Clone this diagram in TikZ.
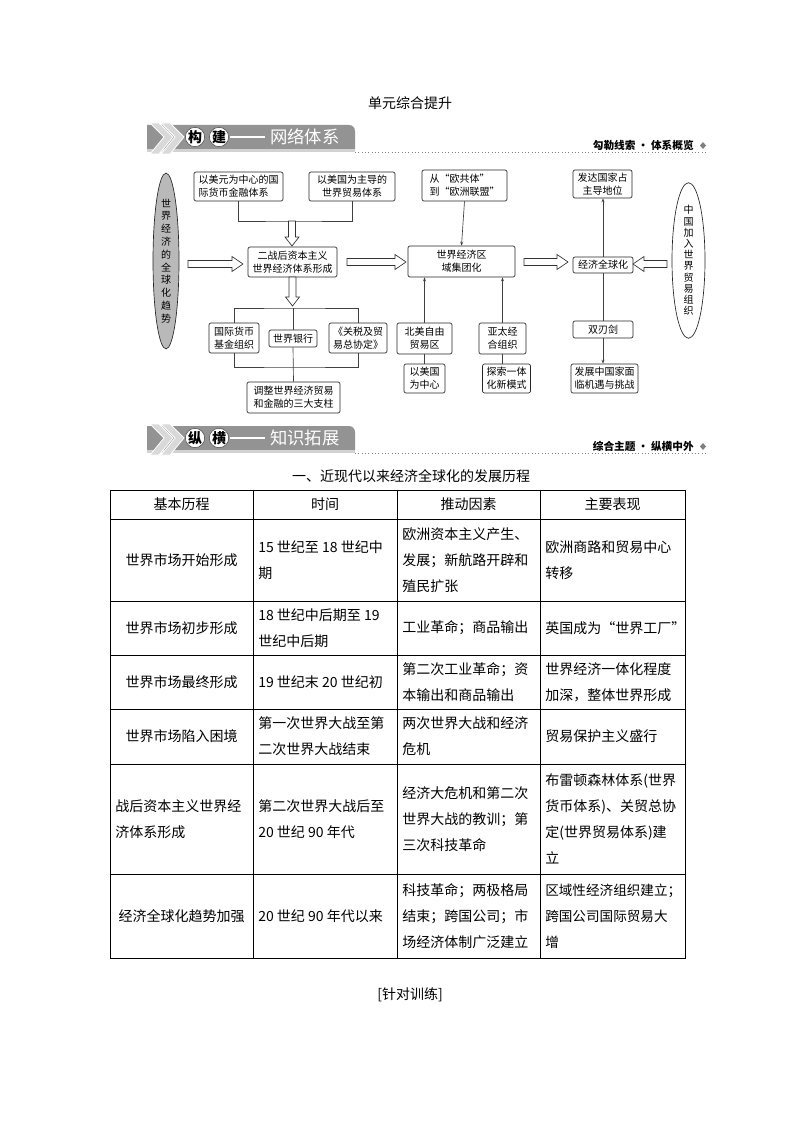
\documentclass[tikz,border=0pt]{standalone}
\usepackage{fontspec}
\setmainfont{Noto Sans CJK SC}
\usetikzlibrary{shapes.geometric,arrows.meta,calc}

\newcommand\harR[3]{\draw[harrow] (#1,#3-3.5) -- (#2-11,#3-3.5) -- (#2-11,#3-7.5) -- (#2,#3) -- (#2-11,#3+7.5) -- (#2-11,#3+3.5) -- (#1,#3+3.5) -- cycle;}
\newcommand\harL[3]{\draw[harrow] (#1,#3-3.5) -- (#2+11,#3-3.5) -- (#2+11,#3-7.5) -- (#2,#3) -- (#2+11,#3+7.5) -- (#2+11,#3+3.5) -- (#1,#3+3.5) -- cycle;}
\newcommand\harD[3]{\draw[harrow] (#1-3.5,#2) -- (#1-3.5,#3-9) -- (#1-7,#3-9) -- (#1,#3) -- (#1+7,#3-9) -- (#1+3.5,#3-9) -- (#1+3.5,#2) -- cycle;}

\newcommand\mybanner[5]{%
  \fill[bannergray] (147,#1+24) -- (147,#1) -- (349,#1) arc[start angle=90,end angle=0,radius=4.5pt] -- (355,#1+24) -- cycle;
  \fill[gray!35] (147,#1+24) rectangle (355,#1+27);
  \draw[dotted, gray, line width=0.5pt] (355,#1+27) -- (707,#1+27);
  \foreach \dx in {0,11}{\filldraw[fill=gray!30, draw=white, line width=0.6pt] (150+\dx,#1-2) -- (159+\dx,#1-2) -- (173+\dx,#1+12) -- (159+\dx,#1+29) -- (150+\dx,#1+29) -- (164+\dx,#1+12) -- cycle;}
  \node[circle, fill=white, draw=gray!60!black, inner sep=0pt, minimum size=14pt, font=\fontsize{10.5}{10.5}\selectfont\bfseries] at (195,#1+12) {#2};
  \node[circle, fill=white, draw=gray!60!black, inner sep=0pt, minimum size=14pt, font=\fontsize{10.5}{10.5}\selectfont\bfseries] at (219,#1+12) {#3};
  \draw[white, line width=0.8pt] (230,#1+12) -- (265,#1+12);
  \node[anchor=west, text=white, inner sep=0pt, font=\fontsize{13}{13}\selectfont] at (270,#1+12) {#4};
  \node[anchor=east, inner sep=0pt, font=\fontsize{8}{8}\selectfont\bfseries] at (694,#1+20) {#5};
  \fill[gray] (703,#1+17) -- (706,#1+20.5) -- (703,#1+24) -- (700,#1+20.5) -- cycle;
}

\begin{document}
\begin{tikzpicture}[x=0.75pt,y=-0.75pt,
  bannergray/.style={fill=gray!85!white},
  harrow/.style={draw=black!80, line width=0.5pt, fill=white},
  box/.style 2 args={draw=black!85, line width=0.5pt, rounded corners=1.5pt, inner sep=0pt,
    minimum width=#1*0.75pt, minimum height=#2*0.75pt, align=center,
    font=\fontsize{7.5}{10}\selectfont},
  lbox/.style 2 args={box={#1}{#2}, align=left},
  conn/.style={draw=black!75, line width=0.5pt},
  tip/.style={conn, -{Stealth[length=3pt,width=2.2pt]}},
  vell/.style={draw=black!85, line width=0.5pt, ellipse, inner sep=0pt, align=center,
    font=\fontsize{7.5}{9.6}\selectfont},
  cell/.style={inner sep=0pt, align=left, font=\fontsize{10.5}{19.5}\selectfont},
  tline/.style={line width=0.7pt, black}
]
\useasboundingbox (0,0) rectangle (794,1123);

% title
\node[font=\fontsize{10.5}{10.5}\selectfont] (title) at (410,103) {单元综合提升};

% banner 1
\mybanner{125}{构}{建}{网络体系}{勾勒线索 · 体系概览}

% diagram nodes
\node[vell, fill=gray!55, minimum width=26*0.75pt, minimum height=150*0.75pt] (ellL) at (166,261)
  {世\\界\\经\\济\\的\\全\\球\\化\\趋\\势};
\node[vell, fill=white, minimum width=33*0.75pt, minimum height=145*0.75pt, font=\fontsize{7.5}{8.4}\selectfont] (ellR) at (688.5,260.5)
  {中\\国\\加\\入\\世\\界\\贸\\易\\组\\织};

\node[lbox={89}{29}] (b1) at (238.5,186.5) {以美元为中心的国\\际货币金融体系};
\node[box={86}{29}] (b2) at (352,186.5) {以美国为主导的\\世界贸易体系};
\node[box={89}{30}] (b3) at (292.5,262) {二战后资本主义\\世界经济体系形成};
\node[box={50}{30}] (imf) at (234,338) {国际货币\\基金组织};
\node[box={48}{17}] (wb) at (293,338.5) {世界银行};
\node[box={58}{30}] (gatt) at (358,338) {《关税及贸\\易总协定》};
\node[box={93}{31}] (adj) at (293.5,397.5) {调整世界经济贸易\\和金融的三大支柱};

\node[lbox={85}{31}] (eu) at (464.5,185.5) {从“欧共体”\\到“欧洲联盟”};
\node[box={107}{31}] (reg) at (461.5,261.5) {世界经济区\\域集团化};
\node[box={55}{31}] (na) at (424.5,338.5) {北美自由\\贸易区};
\node[box={47}{31}] (apec) at (502.5,338.5) {亚太经\\合组织};
\node[box={41}{29}] (usc) at (424.5,378.5) {以美国\\为中心};
\node[box={48}{29}] (exp) at (506.5,378.5) {探索一体\\化新模式};

\node[box={59}{28}] (dev) at (602.5,184) {发达国家占\\主导地位};
\node[box={60}{16}] (glob) at (603,265) {经济全球化};
\node[box={60}{17}] (sword) at (603,329.5) {双刃剑};
\node[box={67}{29}] (dc) at (604.5,378.5) {发展中国家面\\临机遇与挑战};

% connectors
\coordinate (j1) at (292,221);
\draw[conn] (b1.south) |- (j1) -| (b2.south);
\harD{292}{221}{246}
\harR{188}{243}{264}
\harD{292.5}{277}{306}
\coordinate (j2) at (293,308);
\coordinate (j3) at (293,367);
\draw[conn] (imf.north) |- (j2) -| (gatt.north);
\draw[conn] (imf.south) |- (j3) -| (gatt.south);
\draw[conn] (j2) -- (wb.north);
\draw[conn] (wb.south) -- (adj.north);
\harR{347}{406}{262}
\harR{524}{568}{262}
\harL{667}{633}{264}

\draw[tip] (eu.south) -- (reg.north);
\draw[tip] (na.north) -- (na.north |- reg.south);
\draw[tip] (apec.north) -- (apec.north |- reg.south);
\draw[conn] (na.south) -- (na.south |- usc.north);
\draw[conn] (apec.south) -- (apec.south |- exp.north);
\draw[tip] (glob.north) -- (glob.north |- dev.south);
\draw[conn] (glob.south) -- (sword.north);
\draw[tip] (sword.south) -- (sword.south |- dc.north);

% banner 2
\mybanner{426}{纵}{横}{知识拓展}{综合主题 · 纵横中外}

\node[font=\fontsize{10.5}{10.5}\selectfont] (sec) at (411,476) {一、近现代以来经济全球化的发展历程};

% table grid
\draw[tline] (110,490) rectangle (685,958);
\foreach \xx in {253,397,540} \draw[tline] (\xx,490) -- (\xx,958);
\foreach \yy in {519,601,655,709,764,874} \draw[tline] (110,\yy) -- (685,\yy);

% header
\node[cell] (h1) at (181.5,504.5) {基本历程};
\node[cell] (h2) at (325,504.5) {时间};
\node[cell] (h3) at (468.5,504.5) {推动因素};
\node[cell] (h4) at (612.5,504.5) {主要表现};

% row 1
\node[cell] (r1a) at (181.5,560) {世界市场开始形成};
\node[cell, anchor=west] (r1b) at (258,560) {15 世纪至 18 世纪中\\期};
\node[cell, anchor=west] (r1c) at (402,560) {欧洲资本主义产生、\\发展；新航路开辟和\\殖民扩张};
\node[cell, anchor=west] (r1d) at (545,560) {欧洲商路和贸易中心\\转移};
% row 2
\node[cell] (r2a) at (181.5,628) {世界市场初步形成};
\node[cell, anchor=west] (r2b) at (258,628) {18 世纪中后期至 19\\世纪中后期};
\node[cell, anchor=west] (r2c) at (402,628) {工业革命；商品输出};
\node[cell, anchor=west] (r2d) at (545,628) {英国成为“世界工厂”};
% row 3
\node[cell] (r3a) at (181.5,682) {世界市场最终形成};
\node[cell, anchor=west] (r3b) at (258,682) {19 世纪末 20 世纪初};
\node[cell, anchor=west] (r3c) at (402,682) {第二次工业革命；资\\本输出和商品输出};
\node[cell, anchor=west] (r3d) at (545,682) {世界经济一体化程度\\加深，整体世界形成};
% row 4
\node[cell] (r4a) at (181.5,736.5) {世界市场陷入困境};
\node[cell, anchor=west] (r4b) at (258,736.5) {第一次世界大战至第\\二次世界大战结束};
\node[cell, anchor=west] (r4c) at (402,736.5) {两次世界大战和经济\\危机};
\node[cell, anchor=west] (r4d) at (545,736.5) {贸易保护主义盛行};
% row 5
\node[cell, anchor=west] (r5a) at (115,819) {战后资本主义世界经\\济体系形成};
\node[cell, anchor=west] (r5b) at (258,819) {第二次世界大战后至\\20 世纪 90 年代};
\node[cell, anchor=west] (r5c) at (402,819) {经济大危机和第二次\\世界大战的教训；第\\三次科技革命};
\node[cell, anchor=west] (r5d) at (545,819) {布雷顿森林体系(世界\\货币体系)、关贸总协\\定(世界贸易体系)建\\立};
% row 6
\node[cell] (r6a) at (181.5,916) {经济全球化趋势加强};
\node[cell, anchor=west] (r6b) at (258,916) {20 世纪 90 年代以来};
\node[cell, anchor=west] (r6c) at (402,916) {科技革命；两极格局\\结束；跨国公司；市\\场经济体制广泛建立};
\node[cell, anchor=west, font=\fontsize{10.2}{19.5}\selectfont] (r6d) at (545,916) {区域性经济组织建立；\\跨国公司国际贸易大\\增};

\node[font=\fontsize{10.5}{10.5}\selectfont] (train) at (410,995) {[针对训练]};
\end{tikzpicture}
\end{document}
